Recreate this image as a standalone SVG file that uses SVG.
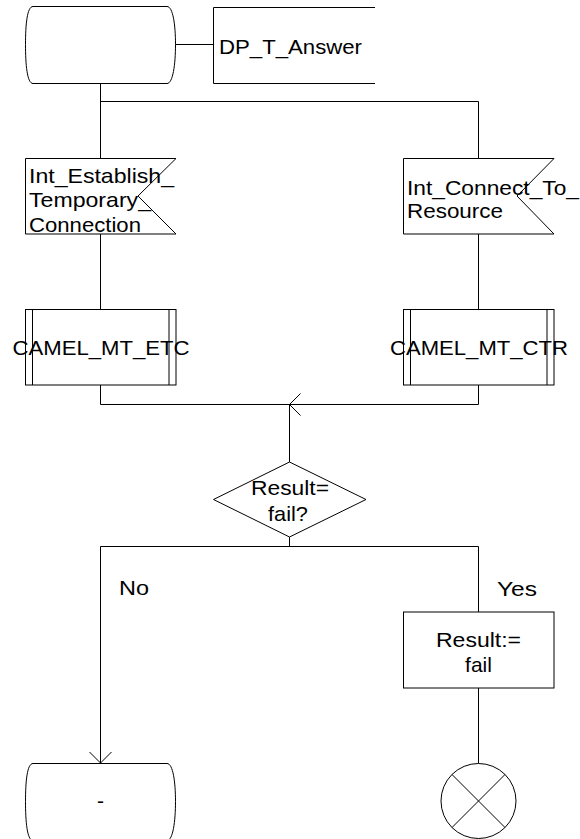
<svg xmlns="http://www.w3.org/2000/svg" width="580" height="839" viewBox="0 0 580 839">
<style>
.s{fill:#fff;stroke:#000;stroke-width:1}
.l{fill:none;stroke:#000;stroke-width:1}
text{font-family:"Liberation Sans",Arial,sans-serif;font-size:21px;fill:#000}
.m{text-anchor:middle}
</style>
<rect width="580" height="839" fill="#fff"/>
<g id="connectors">
<path class="l" d="M100.5,83.5V158.5M100.5,101.5H478.5V158.5"/>
<path class="l" d="M100.5,234V309.5M478.5,234V309.5"/>
<path class="l" d="M100.5,385V404.5H478.5V385"/>
<path class="l" d="M300.5,393.5L289.5,404.5L300.5,415.5"/>
<path class="l" d="M289.5,404.5V462"/>
<path class="l" d="M289.5,537V546.5"/>
<path class="l" d="M100.5,546.5H478.5"/>
<path class="l" d="M100.5,546.5V763"/>
<path class="l" d="M89.5,752L100.5,763L111.5,752"/>
<path class="l" d="M478.5,546.5V612"/>
<path class="l" d="M478.5,688V763.5"/>
<line x1="175" y1="44.5" x2="213" y2="44.5" class="l"/>
</g>
<g id="start">
<path class="s" d="M33,6.5H167C173,6.5 175.5,25 175.5,44.5C175.5,64 173,83.5 167,83.5H33C27,83.5 25.5,64 25.5,44.5C25.5,25 27,6.5 33,6.5Z"/>
</g>
<g id="dp_t_answer">
<path class="l" d="M375,7.5H213.5V83.5H375"/>
<text x="219" y="54" textLength="143" lengthAdjust="spacingAndGlyphs">DP_T_Answer</text>
</g>
<g id="int_establish">
<polygon class="s" points="25.5,158.5 176,158.5 138,196 176,234 25.5,234"/>
<text x="29" y="183" textLength="145" lengthAdjust="spacingAndGlyphs">Int_Establish_</text>
<text x="29" y="207" textLength="122" lengthAdjust="spacingAndGlyphs">Temporary_</text>
<text x="29" y="232" textLength="112" lengthAdjust="spacingAndGlyphs">Connection</text>
</g>
<g id="int_connect">
<polygon class="s" points="403.5,158.5 554,158.5 517,196 554,234 403.5,234"/>
<text x="407" y="195" textLength="172" lengthAdjust="spacingAndGlyphs">Int_Connect_To_</text>
<text x="407" y="218" textLength="96" lengthAdjust="spacingAndGlyphs">Resource</text>
</g>
<g id="camel_mt_etc">
<rect class="s" x="25.5" y="309.5" width="150.5" height="75.5"/>
<path class="l" d="M32.5,309.5V385M169,309.5V385"/>
<text class="m" x="101" y="355" textLength="177" lengthAdjust="spacingAndGlyphs">CAMEL_MT_ETC</text>
</g>
<g id="camel_mt_ctr">
<rect class="s" x="403.5" y="309.5" width="150.5" height="75.5"/>
<path class="l" d="M410.5,309.5V385M547,309.5V385"/>
<text class="m" x="479" y="355" textLength="178" lengthAdjust="spacingAndGlyphs">CAMEL_MT_CTR</text>
</g>
<g id="decision">
<polygon class="s" points="289.5,462 366,499.5 289.5,537 213.5,499.5"/>
<text class="m" x="290" y="495" textLength="78" lengthAdjust="spacingAndGlyphs">Result=</text>
<text class="m" x="288" y="521" textLength="40" lengthAdjust="spacingAndGlyphs">fail?</text>
</g>
<g id="label_no"><text x="119" y="595" textLength="30" lengthAdjust="spacingAndGlyphs">No</text></g>
<g id="label_yes"><text x="497" y="596" textLength="40" lengthAdjust="spacingAndGlyphs">Yes</text></g>
<g id="result_fail">
<rect class="s" x="403.5" y="612" width="150.5" height="76"/>
<text class="m" x="478.5" y="647" textLength="85" lengthAdjust="spacingAndGlyphs">Result:=</text>
<text class="m" x="478.5" y="672">fail</text>
</g>
<g id="end_state">
<path class="s" d="M33,763.5H167C173,763.5 175.5,782 175.5,801.5C175.5,821 173,840.5 167,840.5H33C27,840.5 25.5,821 25.5,801.5C25.5,782 27,763.5 33,763.5Z"/>
<text class="m" x="100.5" y="808">-</text>
</g>
<g id="stop">
<circle class="s" cx="478.5" cy="801" r="37.5"/>
<path class="l" d="M452,774.5L505,827.5M505,774.5L452,827.5"/>
</g>
</svg>
